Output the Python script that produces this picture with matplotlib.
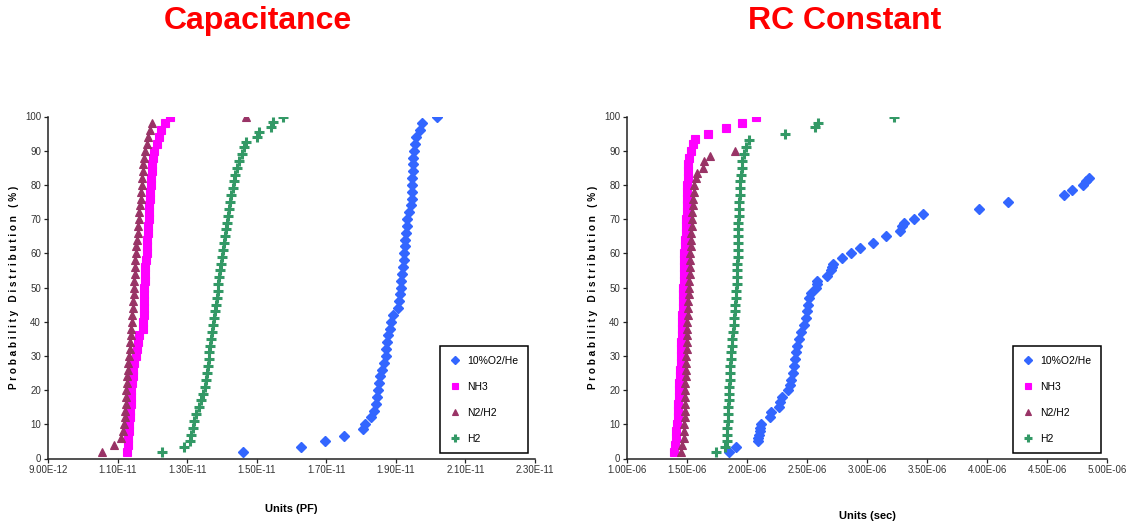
import numpy as np
import matplotlib
matplotlib.use("Agg")
import matplotlib.pyplot as plt
from matplotlib.ticker import FuncFormatter

plt.rcParams['font.family'] = ['Liberation Sans Narrow', 'Liberation Sans', 'DejaVu Sans']

SERIES_NAMES = ["10%O2/He", "NH3", "N2/H2", "H2"]

# ---- Capacitance panel (values in farads, x1e-11) ----
cap_he_y = [2, 3.5, 5, 6.5, 8.5, 10, 12, 14, 16, 18, 20, 22, 24, 26, 28, 30, 32, 34, 36, 38, 40,
            42, 44, 46, 48, 50, 52, 54, 56, 58, 60, 62, 64, 66, 68, 70, 72, 74, 76, 78, 80,
            82, 84, 86, 88, 90, 92, 94, 96, 98, 100]
cap_he_x = np.array([1.461, 1.627, 1.696, 1.752, 1.806, 1.811, 1.828, 1.836, 1.843, 1.846, 1.849,
                     1.852, 1.855, 1.860, 1.866, 1.871, 1.873, 1.875, 1.878, 1.882, 1.887,
                     1.892, 1.905, 1.909, 1.912, 1.914, 1.916, 1.918, 1.920, 1.922, 1.923,
                     1.925, 1.927, 1.929, 1.931, 1.933, 1.938, 1.944, 1.945, 1.946, 1.946,
                     1.947, 1.948, 1.949, 1.950, 1.951, 1.954, 1.959, 1.969, 1.974, 2.017]) * 1e-11

cap_nh3_y = [2, 4, 6, 8, 10, 12, 14, 16, 18, 20, 22, 24, 26, 28, 30, 32, 34, 36, 38, 40,
             42, 44, 46, 48, 50, 52, 54, 56, 58, 60, 62, 64, 66, 68, 70, 72, 74, 76, 78, 80,
             82, 84, 86, 88, 90, 92, 94, 96, 98, 100]
cap_nh3_x = np.array([1.127, 1.129, 1.131, 1.133, 1.134, 1.135, 1.136, 1.138, 1.139, 1.140,
                      1.141, 1.143, 1.145, 1.148, 1.152, 1.155, 1.158, 1.162, 1.172, 1.174,
                      1.175, 1.176, 1.176, 1.177, 1.177, 1.178, 1.179, 1.180, 1.183, 1.185,
                      1.186, 1.186, 1.187, 1.188, 1.189, 1.190, 1.191, 1.192, 1.194, 1.195,
                      1.196, 1.198, 1.200, 1.203, 1.206, 1.212, 1.218, 1.225, 1.236, 1.252]) * 1e-11

cap_n2_y = [2, 4, 6, 8, 10, 12, 14, 16, 18, 20, 22, 24, 26, 28, 30, 32, 34, 36, 38, 40,
            42, 44, 46, 48, 50, 52, 54, 56, 58, 60, 62, 64, 66, 68, 70, 72, 74, 76, 78, 80,
            82, 84, 86, 88, 90, 92, 94, 96, 98, 100]
cap_n2_x = np.array([1.056, 1.090, 1.110, 1.117, 1.119, 1.121, 1.122, 1.123, 1.124, 1.125,
                     1.126, 1.127, 1.129, 1.131, 1.133, 1.135, 1.136, 1.138, 1.139, 1.141,
                     1.142, 1.143, 1.144, 1.146, 1.147, 1.148, 1.149, 1.150, 1.151, 1.152,
                     1.154, 1.156, 1.158, 1.160, 1.161, 1.163, 1.165, 1.167, 1.168, 1.170,
                     1.171, 1.172, 1.173, 1.175, 1.180, 1.184, 1.188, 1.193, 1.199, 1.469]) * 1e-11

cap_h2_y = [2, 3.5, 5, 7, 9, 11, 13, 15, 17, 19, 21, 23, 25, 27, 29, 31, 33, 35, 37, 39,
            41, 43, 45, 47, 49, 51, 53, 55, 57, 59, 61, 63, 65, 67, 69, 71, 73, 75, 77, 79,
            81, 83, 85, 87, 89, 91, 92.5, 94, 95.5, 97, 98.5, 100]
cap_h2_x = np.array([1.227, 1.291, 1.307, 1.312, 1.316, 1.320, 1.325, 1.334, 1.340, 1.345,
                     1.350, 1.354, 1.357, 1.359, 1.362, 1.364, 1.366, 1.369, 1.371, 1.374,
                     1.377, 1.380, 1.383, 1.386, 1.388, 1.390, 1.392, 1.394, 1.397, 1.400,
                     1.403, 1.406, 1.409, 1.412, 1.415, 1.418, 1.421, 1.424, 1.427, 1.431,
                     1.435, 1.438, 1.442, 1.450, 1.458, 1.464, 1.469, 1.500, 1.508, 1.541,
                     1.547, 1.575]) * 1e-11

# ---- RC constant panel (values in seconds, x1e-6) ----
rc_he_y = [2, 3.5, 5, 6, 7, 8, 9, 10, 12, 13.5, 15, 16.5, 18, 20, 21.5, 23, 25, 27, 29, 31,
           33, 35, 37, 39, 41, 43, 45, 47, 48.5, 50, 51, 52, 53.5, 55, 56, 57, 58.5, 60,
           61.5, 63, 65, 66.5, 68, 69, 70, 71.5, 73, 75, 77, 78.5, 80, 81, 82]
rc_he_x = np.array([1.852, 1.907, 2.090, 2.095, 2.100, 2.105, 2.110, 2.115, 2.191, 2.197,
                    2.267, 2.275, 2.289, 2.340, 2.355, 2.368, 2.380, 2.390, 2.398, 2.407,
                    2.420, 2.432, 2.450, 2.472, 2.490, 2.502, 2.510, 2.518, 2.530, 2.573,
                    2.580, 2.585, 2.664, 2.701, 2.710, 2.716, 2.792, 2.863, 2.945, 3.046,
                    3.159, 3.272, 3.295, 3.311, 3.388, 3.470, 3.931, 4.176, 4.640, 4.710,
                    4.802, 4.829, 4.847]) * 1e-6

rc_nh3_y = [2, 4, 6, 8, 10, 12, 14, 16, 18, 20, 22, 24, 26, 28, 30, 32, 34, 36, 38, 40,
            42, 44, 46, 48, 50, 52, 54, 56, 58, 60, 62, 64, 66, 68, 70, 72, 74, 76, 78, 80,
            82, 84, 86, 88, 90, 92, 93.5, 95, 96.5, 98, 100]
rc_nh3_x = np.array([1.388, 1.398, 1.405, 1.412, 1.418, 1.421, 1.424, 1.427, 1.430, 1.434,
                     1.437, 1.440, 1.443, 1.446, 1.449, 1.451, 1.453, 1.455, 1.457, 1.458,
                     1.461, 1.463, 1.466, 1.468, 1.470, 1.472, 1.474, 1.476, 1.478, 1.479,
                     1.482, 1.485, 1.488, 1.492, 1.495, 1.497, 1.499, 1.501, 1.503, 1.504,
                     1.506, 1.508, 1.512, 1.520, 1.531, 1.548, 1.565, 1.672, 1.824, 1.959,
                     2.075]) * 1e-6

rc_n2_y = [2, 4, 6, 8, 10, 12, 14, 16, 18, 20, 22, 24, 26, 28, 30, 32, 34, 36, 38, 40,
           42, 44, 46, 48, 50, 52, 54, 56, 58, 60, 62, 64, 66, 68, 70, 72, 74, 76, 78, 80,
           82, 83.5, 85, 87, 88.5, 90]
rc_n2_x = np.array([1.449, 1.462, 1.472, 1.476, 1.479, 1.480, 1.482, 1.483, 1.485, 1.486,
                    1.487, 1.489, 1.491, 1.493, 1.495, 1.497, 1.499, 1.501, 1.502, 1.504,
                    1.506, 1.508, 1.511, 1.513, 1.516, 1.518, 1.521, 1.523, 1.526, 1.528,
                    1.530, 1.533, 1.535, 1.538, 1.540, 1.544, 1.548, 1.552, 1.557, 1.562,
                    1.572, 1.580, 1.632, 1.645, 1.693, 1.901]) * 1e-6

rc_h2_y = [2, 3.5, 5, 7, 9, 11, 13, 15, 17, 19, 21, 23, 25, 27, 29, 31, 33, 35, 37, 39,
           41, 43, 45, 47, 49, 51, 53, 55, 57, 59, 61, 63, 65, 67, 69, 71, 73, 75, 77, 79,
           81, 83, 85, 87, 89, 91, 93, 95, 97, 98, 100]
rc_h2_x = np.array([1.745, 1.815, 1.830, 1.833, 1.836, 1.838, 1.840, 1.843, 1.846, 1.849,
                    1.852, 1.855, 1.858, 1.861, 1.864, 1.868, 1.873, 1.878, 1.883, 1.888,
                    1.893, 1.899, 1.904, 1.908, 1.911, 1.914, 1.916, 1.918, 1.920, 1.921,
                    1.922, 1.924, 1.926, 1.927, 1.929, 1.931, 1.933, 1.936, 1.938, 1.941,
                    1.945, 1.950, 1.956, 1.962, 1.975, 1.990, 2.014, 2.319, 2.569, 2.588,
                    3.226]) * 1e-6

cap_xticks = [9.0e-12, 1.1e-11, 1.3e-11, 1.5e-11, 1.7e-11, 1.9e-11, 2.1e-11, 2.3e-11]
rc_xticks = [1.0e-6, 1.5e-6, 2.0e-6, 2.5e-6, 3.0e-6, 3.5e-6, 4.0e-6, 4.5e-6, 5.0e-6]
y_ticks = [0, 10, 20, 30, 40, 50, 60, 70, 80, 90, 100]

# marker style per gas, Excel-ish palette
STYLES = [dict(marker='D', color='#3366FF', ms=5.0, mew=1.0),
          dict(marker='s', color='#FF00FF', ms=5.4, mew=0.8),
          dict(marker='^', color='#993366', ms=6.0, mew=0.8),
          dict(marker='+', color='#339966', ms=7.0, mew=2.2)]

FIG_W, FIG_H = 1134, 527
Y_TOP, Y_BOT = 116.5, 458.5


def sci_label(v, pos):
  return f"{v:.2E}"


def draw_panel(fig, left_px, right_px, data, xticks, xlabel, xlabel_px, title, title_x):
  ax = fig.add_axes([left_px / FIG_W, (FIG_H - Y_BOT) / FIG_H,
                     (right_px - left_px) / FIG_W, (Y_BOT - Y_TOP) / FIG_H])
  width = right_px - left_px
  height = Y_BOT - Y_TOP

  for name, (xs, ys), st in zip(SERIES_NAMES, data, STYLES):
    ax.plot(xs, ys, linestyle='none', marker=st['marker'], color=st['color'],
            markersize=st['ms'], markeredgewidth=st['mew'], label=name)

  ax.set_xlim(xticks[0], xticks[-1])
  ax.set_ylim(0, 100)
  ax.set_xticks(xticks)
  ax.set_yticks(y_ticks)
  ax.xaxis.set_major_formatter(FuncFormatter(sci_label))

  for side in ['top', 'right']:
    ax.spines[side].set_visible(False)
  for side in ['left', 'bottom']:
    ax.spines[side].set_color('#222222')
    ax.spines[side].set_linewidth(1.1)
  ax.tick_params(direction='out', length=3, width=0.9, labelsize=7, pad=2,
                 colors='#222222', labelcolor='#333333')

  ax.set_ylabel("P r o b a b i l i t y   D i s t r i b u t i o n   ( % )",
                fontsize=7.2, fontweight='bold', family=['Liberation Sans', 'DejaVu Sans'])
  ax.yaxis.set_label_coords(-29 / width, 0.5)
  ax.set_xlabel(xlabel, fontsize=8, fontweight='bold')
  ax.xaxis.set_label_coords(0.5, -(xlabel_px - Y_BOT) / height)

  leg = ax.legend(loc='lower left', bbox_to_anchor=(0.805, 0.015), borderaxespad=0,
                  fancybox=False, edgecolor='black', framealpha=1, fontsize=7.5,
                  labelspacing=1.55, borderpad=0.9, handlelength=1.0, handletextpad=0.7,
                  markerscale=0.8)
  leg.get_frame().set_linewidth(1.1)

  fig.text(title_x / FIG_W, 1 - 21 / FIG_H, title, color='#FF0000', fontsize=23,
           fontweight='bold', ha='center', va='center', family=['Liberation Sans', 'DejaVu Sans'])
  return ax


if __name__ == "__main__":
  fig = plt.figure(figsize=(FIG_W / 100, FIG_H / 100), dpi=100)

  cap_data = [(cap_he_x, cap_he_y), (cap_nh3_x, cap_nh3_y),
              (cap_n2_x, cap_n2_y), (cap_h2_x, cap_h2_y)]
  rc_data = [(rc_he_x, rc_he_y), (rc_nh3_x, rc_nh3_y),
             (rc_n2_x, rc_n2_y), (rc_h2_x, rc_h2_y)]

  draw_panel(fig, 48, 535, cap_data, cap_xticks, "Units (PF)", 504, "Capacitance", 258)
  draw_panel(fig, 627, 1107, rc_data, rc_xticks, "Units (sec)", 511, "RC Constant", 845)

  fig.savefig("out.png", dpi=100)
